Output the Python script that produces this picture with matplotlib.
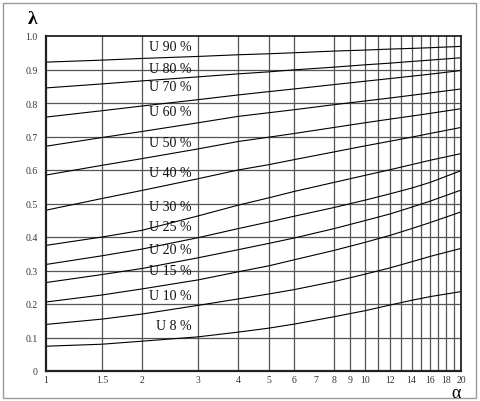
import matplotlib
matplotlib.use('Agg')
import matplotlib.pyplot as plt
from matplotlib.patches import Rectangle

plt.rcParams['font.family'] = ['Liberation Serif', 'DejaVu Serif']

# alpha values where the curves were read
alpha = [1, 1.5, 2, 3, 4, 5, 6, 8, 10, 12, 14, 16, 20]

u90 = [0.922, 0.928, 0.933, 0.939, 0.944, 0.947, 0.950, 0.955, 0.958, 0.961, 0.963, 0.965, 0.969]
u80 = [0.845, 0.857, 0.866, 0.878, 0.887, 0.893, 0.899, 0.907, 0.914, 0.919, 0.924, 0.928, 0.935]
u70 = [0.758, 0.777, 0.791, 0.810, 0.824, 0.834, 0.842, 0.855, 0.865, 0.873, 0.880, 0.886, 0.897]
u60 = [0.671, 0.697, 0.715, 0.741, 0.760, 0.771, 0.780, 0.795, 0.806, 0.815, 0.823, 0.830, 0.842]
u50 = [0.585, 0.614, 0.634, 0.663, 0.685, 0.698, 0.709, 0.727, 0.741, 0.752, 0.761, 0.769, 0.783]
u40 = [0.480, 0.515, 0.539, 0.574, 0.600, 0.616, 0.631, 0.654, 0.672, 0.686, 0.698, 0.709, 0.727]
u30 = [0.375, 0.400, 0.420, 0.463, 0.495, 0.517, 0.536, 0.563, 0.584, 0.601, 0.616, 0.629, 0.649]
u25 = [0.318, 0.344, 0.364, 0.398, 0.425, 0.445, 0.462, 0.488, 0.510, 0.529, 0.546, 0.563, 0.598]
u20 = [0.264, 0.288, 0.306, 0.338, 0.362, 0.381, 0.397, 0.425, 0.449, 0.469, 0.489, 0.507, 0.540]
u15 = [0.206, 0.227, 0.245, 0.272, 0.296, 0.314, 0.332, 0.360, 0.384, 0.405, 0.425, 0.443, 0.475]
u10 = [0.139, 0.155, 0.170, 0.196, 0.215, 0.230, 0.243, 0.267, 0.289, 0.308, 0.326, 0.342, 0.366]
u8 = [0.074, 0.080, 0.089, 0.102, 0.116, 0.128, 0.140, 0.162, 0.180, 0.197, 0.211, 0.222, 0.237]

curves = [u90, u80, u70, u60, u50, u40, u30, u25, u20, u15, u10, u8]
labels = ['U 90 %', 'U 80 %', 'U 70 %', 'U 60 %', 'U 50 %', 'U 40 %',
          'U 30 %', 'U 25 %', 'U 20 %', 'U 15 %', 'U 10 %', 'U 8 %']
label_y = [0.970, 0.904, 0.848, 0.776, 0.681, 0.594, 0.490, 0.430, 0.364, 0.299, 0.224, 0.137]

xticks = [1, 1.5, 2, 3, 4, 5, 6, 7, 8, 9, 10, 12, 14, 16, 18, 20]
xgrid = [1.5, 2, 3, 4, 5, 6, 8, 9, 10, 11, 12, 13, 14, 15, 16, 17, 18, 19]
yticks = [0, 0.1, 0.2, 0.3, 0.4, 0.5, 0.6, 0.7, 0.8, 0.9, 1.0]

fig = plt.figure(figsize=(4.8, 4.02), dpi=100)
ax = fig.add_axes([46/480, 30/402, 415/480, 335/402])

ax.set_xscale('log')
ax.set_xlim(1, 20)
ax.set_ylim(0, 1.0)

for g in xgrid:
    ax.axvline(g, color='#555555', lw=0.9, zorder=1)
for g in yticks[1:-1]:
    ax.axhline(g, color='#555555', lw=0.9, zorder=1)

for c in curves:
    ax.plot(alpha, c, color='black', lw=0.8, zorder=2)

for lab, yy in zip(labels, label_y):
    xx = 2.21 if lab == 'U 8 %' else 2.10
    ax.text(xx, yy, lab, fontsize=10, va='center', ha='left', color='#111111')

ax.set_xticks(xticks)
ax.set_xticklabels([str(t) for t in xticks])
ax.minorticks_off()
ax.set_yticks(yticks)
ax.set_yticklabels(['0'] + ['%.1f' % t for t in yticks[1:]])
ax.tick_params(length=0, labelsize=7, colors='#333333', pad=6)
ax.tick_params(axis='x', pad=3)

for s in ax.spines.values():
    s.set_color('#222222')
    s.set_linewidth(1.3)
ax.spines['left'].set_linewidth(1.6)
ax.spines['bottom'].set_linewidth(1.6)

fig.text(33/480, 1 - 19/402, 'λ', fontsize=14, fontweight='bold', ha='center', va='center')
fig.text(456/480, 1 - 398/402, 'α', fontsize=13, ha='center', va='baseline')

fig.patches.append(Rectangle((3/480, 3/402), 473/480, 395/402, transform=fig.transFigure,
                             fill=False, edgecolor='#999999', lw=1.0))

fig.savefig('out.png', dpi=100)
